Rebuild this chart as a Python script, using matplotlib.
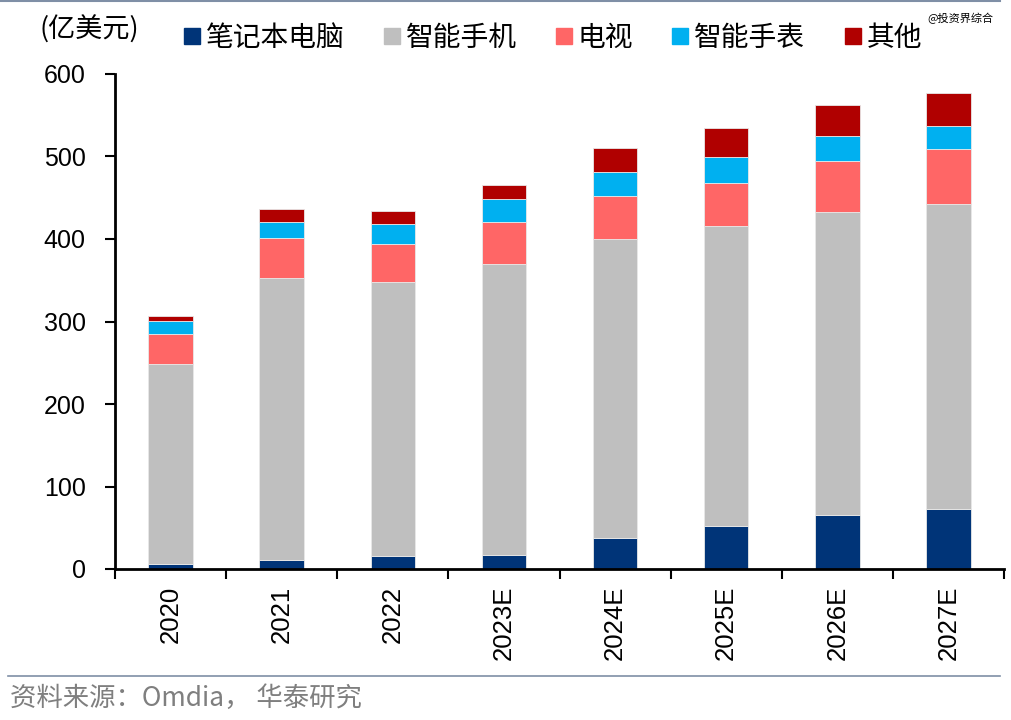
import matplotlib
matplotlib.use("Agg")
import matplotlib.pyplot as plt
import numpy as np
from matplotlib.lines import Line2D

plt.rcParams['font.family'] = ['Liberation Sans', 'Noto Sans CJK SC', 'DejaVu Sans']

categories = ["2020", "2021", "2022", "2023E", "2024E", "2025E", "2026E", "2027E"]
laptop = [6, 11, 16, 17, 37, 52, 65, 73]
phone = [243, 342, 332, 353, 363, 364, 368, 370]
tv = [36, 48, 46, 51, 52, 52, 62, 66]
watch = [16, 20, 24, 28, 29, 31, 30, 28]
other = [6, 15, 16, 17, 29, 35, 37, 40]
series_names = ["笔记本电脑", "智能手机", "电视", "智能手表", "其他"]
colors = ["#003478", "#BFBFBF", "#FF6666", "#00B0F0", "#B00000"]
yticks = [0, 100, 200, 300, 400, 500, 600]

fig = plt.figure(figsize=(10.11, 7.2), dpi=100)
ax = fig.add_axes([115/1011, 1-569/720, (1004-115)/1011, (569-74)/720])

x = np.arange(len(categories))
bottom = np.zeros(len(categories))
series = [laptop, phone, tv, watch, other]
for vals, c in zip(series, colors):
    ax.bar(x, vals, width=0.4, bottom=bottom, color=c, edgecolor="#E8E8E8", linewidth=0.6, zorder=2)
    bottom += np.array(vals)

ax.set_xlim(-0.5, len(categories) - 0.5)
ax.set_ylim(0, 600)
ax.set_yticks(yticks)
ax.set_yticklabels([str(v) for v in yticks], fontsize=18)
ax.set_xticks(x)
ax.set_xticklabels(categories, rotation=90, fontsize=18.5)
ax.tick_params(axis='x', length=0, pad=12)
ax.set_xticks(np.arange(len(categories) + 1) - 0.5, minor=True)
ax.tick_params(axis='x', which='minor', length=7, width=1.5, direction='out')
ax.tick_params(axis='y', length=7, width=1.5, direction='out', pad=14)
for s in ['top', 'right']:
    ax.spines[s].set_visible(False)
for s in ['left', 'bottom']:
    ax.spines[s].set_linewidth(2)

# unit label
fig.text(40/1011, 1-30/720, "(亿美元)", fontsize=19.5, va='center', ha='left',
         family=['Noto Sans CJK SC', 'DejaVu Sans'])

handles = [Line2D([0], [0], marker='s', color='none', markerfacecolor=c, markeredgecolor=c,
                  markersize=12) for c in colors]
leg = fig.legend(handles, series_names, loc='center left', bbox_to_anchor=(153/1011, 1-38/720),
                 ncol=5, frameon=False, handletextpad=0.0, columnspacing=1.2, handlelength=1.0,
                 prop={'family': 'Noto Sans CJK SC', 'size': 20})

fig.text(993/1011, 1-18/720, "@投资界综合", fontsize=8, ha='right', va='center',
         family=['Noto Sans CJK SC', 'DejaVu Sans'])

fig.text(10/1011, 1-698/720, "资料来源：Omdia， 华泰研究", fontsize=19, color='#7F7F7F',
         ha='left', va='center', family=['Noto Sans CJK SC', 'DejaVu Sans'])

fig.add_artist(Line2D([0, 1000/1011], [1-0.8/720, 1-0.8/720], color='#7F8FA6', linewidth=1.5,
                      transform=fig.transFigure))
fig.add_artist(Line2D([8/1011, 1000/1011], [1-676/720, 1-676/720], color='#7F8FA6', linewidth=1.2,
                      transform=fig.transFigure))

fig.savefig("out.png", dpi=100)
